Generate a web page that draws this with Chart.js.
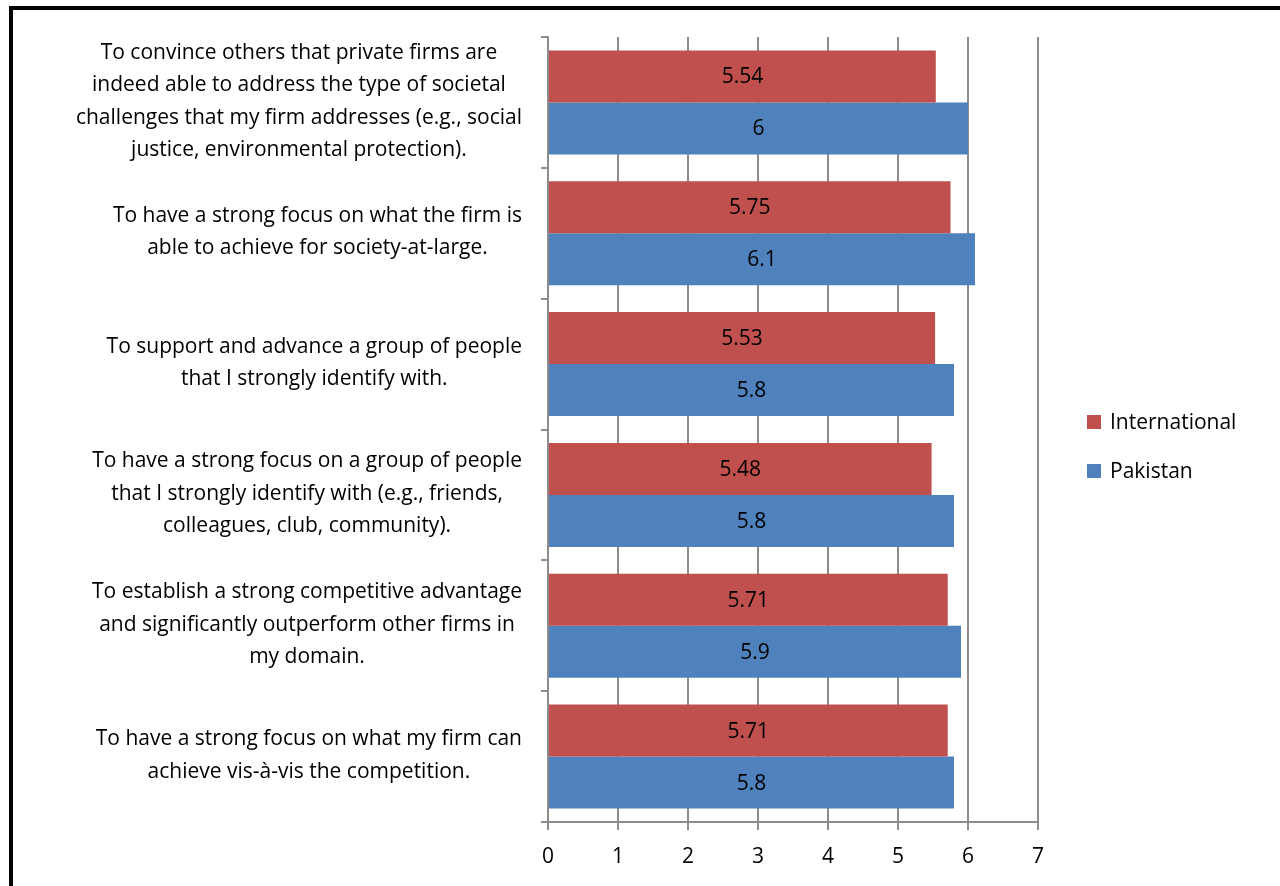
<!DOCTYPE html>
<html>
<head>
<meta charset="utf-8">
<script src="https://cdn.jsdelivr.net/npm/chart.js@4.4.1/dist/chart.umd.min.js"></script>
<style>
  html, body { margin: 0; padding: 0; background: #fff; }
  #wrap { position: relative; width: 1280px; height: 886px; overflow: hidden; }
  #frame { position: absolute; left: 9px; top: 6px; right: -10px; bottom: -10px;
           border-left: 4px solid #000; border-top: 4px solid #000; }
  canvas { position: absolute; left: 0; top: 0; }
</style>
</head>
<body>
<div id="wrap">
  <div id="frame"></div>
  <canvas id="myChart" width="1280" height="886"></canvas>
</div>
<script>
const FONT = '"Open Sans", sans-serif';

// statements, one array of lines each
const categories = [
  ['To convince others that private firms are', 'indeed able to address the type of societal',
   'challenges that my firm addresses (e.g., social', 'justice, environmental protection).'],
  ['To have a strong focus on what the firm is', 'able to achieve for society-at-large.'],
  ['To support and advance a group of people', 'that I strongly identify with.'],
  ['To have a strong focus on a group of people', 'that I strongly identify with (e.g., friends,',
   'colleagues, club, community).'],
  ['To establish a strong competitive advantage', 'and significantly outperform other firms in',
   'my domain.'],
  ['To have a strong focus on what my firm can', 'achieve vis-à-vis the competition.']
];
const international = [5.54, 5.75, 5.53, 5.48, 5.71, 5.71];
const pakistan = [6, 6.1, 5.8, 5.8, 5.9, 5.8];
const xTicks = [0, 1, 2, 3, 4, 5, 6, 7];

// category labels: each block centred on itself, widest line flush at the right
const catLabels = {
  id: 'catLabels',
  afterDraw(chart) {
    const ctx = chart.ctx;
    const y = chart.scales.y;
    const right = y.right - 26;
    ctx.save();
    // size the text so the longest line is about 492px wide
    ctx.font = '20px ' + FONT;
    const probe = ctx.measureText(categories[0][2]).width;
    const size = Math.min(21, 20 * 492 / probe);
    ctx.font = size.toFixed(2) + 'px ' + FONT;
    ctx.fillStyle = '#000';
    ctx.textAlign = 'center';
    ctx.textBaseline = 'middle';
    categories.forEach((lines, i) => {
      const maxW = Math.max(...lines.map(l => ctx.measureText(l).width));
      const cx = right - maxW / 2;
      const cy = y.getPixelForTick(i);
      const lh = 32.5;
      lines.forEach((l, j) => {
        ctx.fillText(l, cx, cy + (j - (lines.length - 1) / 2) * lh - 1);
      });
    });
    ctx.restore();
  }
};

// value text in the middle of every bar
const barValues = {
  id: 'barValues',
  afterDatasetsDraw(chart) {
    const ctx = chart.ctx;
    ctx.save();
    ctx.font = '21px ' + FONT;
    ctx.fillStyle = '#000';
    ctx.textAlign = 'center';
    ctx.textBaseline = 'middle';
    chart.data.datasets.forEach((ds, di) => {
      chart.getDatasetMeta(di).data.forEach((bar, i) => {
        ctx.fillText(String(ds.data[i]), (bar.x + bar.base) / 2, bar.y + 1);
      });
    });
    ctx.restore();
  }
};

// legend to the right of the plot
const sideLegend = {
  id: 'sideLegend',
  afterDraw(chart) {
    const ctx = chart.ctx;
    ctx.save();
    ctx.font = '21px ' + FONT;
    ctx.textBaseline = 'middle';
    chart.data.datasets.forEach((ds, i) => {
      const y = 422 + i * 49;
      ctx.fillStyle = ds.backgroundColor;
      ctx.fillRect(1087, y - 7, 14, 14);
      ctx.fillStyle = '#000';
      ctx.fillText(ds.label, 1110, y + 1);
    });
    ctx.restore();
  }
};

const ctx = document.getElementById('myChart').getContext('2d');
new Chart(ctx, {
  type: 'bar',
  data: {
    labels: categories,
    datasets: [
      { label: 'International', data: international, backgroundColor: '#c0504d' },
      { label: 'Pakistan', data: pakistan, backgroundColor: '#4f81bd' }
    ]
  },
  options: {
    indexAxis: 'y',
    responsive: false,
    animation: false,
    layout: { padding: { top: 37, right: 242, left: 0, bottom: 0 } },
    datasets: { bar: { categoryPercentage: 0.795, barPercentage: 1.0 } },
    scales: {
      x: {
        min: 0,
        max: 7,
        afterBuildTicks: (scale) => { scale.ticks = xTicks.map(v => ({ value: v })); },
        afterFit: (scale) => { scale.height = 64; },
        grid: { color: '#8c8c8c', lineWidth: 2, tickLength: 8 },
        border: { color: '#8c8c8c', width: 2 },
        ticks: { color: '#000', padding: 14, font: { family: FONT, size: 21 } }
      },
      y: {
        afterFit: (scale) => { scale.width = 548; },
        grid: { offset: true, drawOnChartArea: false, color: '#8c8c8c', lineWidth: 2, tickLength: 7 },
        border: { color: '#8c8c8c', width: 2 },
        ticks: { display: false }
      }
    },
    plugins: {
      legend: { display: false },
      tooltip: { enabled: false }
    }
  },
  plugins: [catLabels, barValues, sideLegend]
});
</script>
</body>
</html>
